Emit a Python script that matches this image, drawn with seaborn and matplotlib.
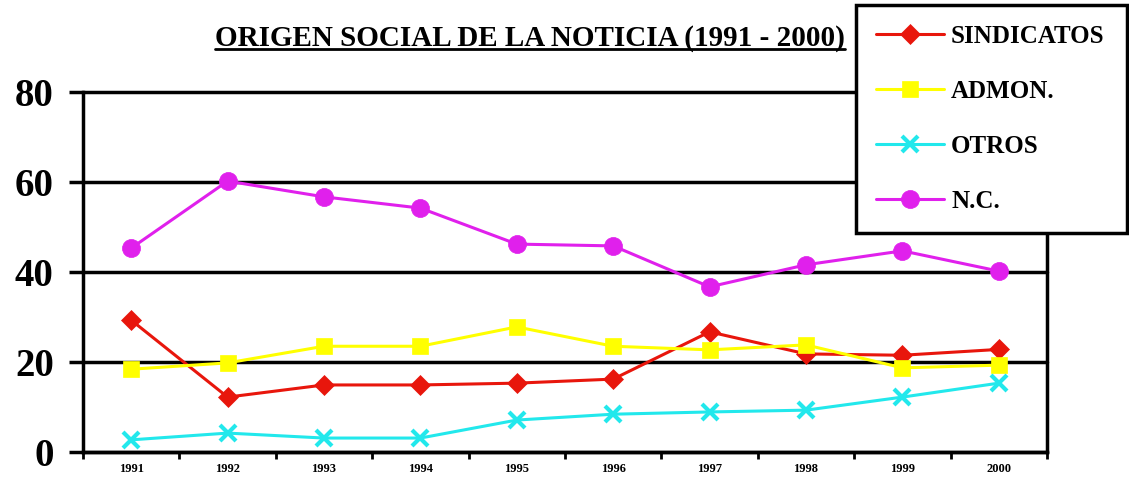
# -*- coding: utf-8 -*-
"""
Origen social de la noticia (1991 - 2000)
"""
import pandas as pd
import matplotlib
matplotlib.use('Agg')
import matplotlib.pyplot as plt
import seaborn as sns
from matplotlib.lines import Line2D

# ------------------------------------------------------ #
# DATOS
# ------------------------------------------------------ #
years = ['1991', '1992', '1993', '1994', '1995', '1996', '1997', '1998', '1999', '2000']
series = ['SINDICATOS', 'ADMON.', 'OTROS', 'N.C.']
sindicatos = [29.3, 12.2, 14.9, 14.9, 15.3, 16.2, 26.7, 21.8, 21.5, 22.8]
admon = [18.4, 19.8, 23.5, 23.5, 27.8, 23.5, 22.7, 23.8, 18.7, 19.3]
otros = [2.7, 4.2, 3.1, 3.1, 7.1, 8.4, 8.9, 9.3, 12.2, 15.3]
nc = [45.3, 60.2, 56.7, 54.2, 46.2, 45.8, 36.7, 41.6, 44.7, 40.2]
yticks = [0, 20, 40, 60, 80]

values = {'SINDICATOS': sindicatos, 'ADMON.': admon, 'OTROS': otros, 'N.C.': nc}
colors = {'SINDICATOS': '#e8160c', 'ADMON.': '#ffff00',
          'OTROS': '#22e8ec', 'N.C.': '#e020ec'}
markers = {'SINDICATOS': 'D', 'ADMON.': 's', 'OTROS': 'x', 'N.C.': 'o'}
msizes = {'SINDICATOS': 10, 'ADMON.': 12, 'OTROS': 11, 'N.C.': 13}

# ------------------------------------------------------ #
# ESTILO
# ------------------------------------------------------ #
sns.set_theme(style='white')
plt.rcParams['font.family'] = ['Liberation Serif', 'DejaVu Serif']
plt.rcParams['text.color'] = 'black'
plt.rcParams['xtick.color'] = 'black'
plt.rcParams['ytick.color'] = 'black'

fig = plt.figure(figsize=(11.29, 4.8), dpi=100)
ax = fig.add_axes([83 / 1129, 1 - 452 / 480, (1047 - 83) / 1129, (452 - 92) / 480])

for s in series:
    d = pd.DataFrame({'Año': years, 'Valor': values[s]})
    sns.lineplot(data=d, x='Año', y='Valor', color=colors[s], marker=markers[s],
                 markersize=msizes[s], markeredgecolor=colors[s],
                 markerfacecolor=colors[s],
                 markeredgewidth=3 if s == 'OTROS' else 0.5,
                 linewidth=2.2, sort=False, ax=ax, label=s, legend=False)

ax.set_xlim(-0.5, 9.5)
ax.set_ylim(0, 80)
ax.set_yticks(yticks)
ax.set_yticklabels([str(v) for v in yticks], fontsize=28, fontweight='bold')
ax.set_xticks(range(len(years)))
ax.set_xticklabels(years, fontsize=9, fontweight='bold')
ax.set_xticks([i + 0.5 for i in range(-1, len(years))], minor=True)
ax.tick_params(axis='x', which='major', length=0, pad=8)
ax.tick_params(axis='x', which='minor', length=5, width=2, direction='out',
               color='black', bottom=True)
ax.tick_params(axis='y', length=10, width=2.5, direction='out', color='black',
               left=True, pad=11)
ax.set_xlabel('')
ax.set_ylabel('')
ax.yaxis.grid(True, color='black', linewidth=2.5)
ax.set_axisbelow(True)
for gl in ax.get_ygridlines():
    gl.set_clip_on(False)
for side in ['left', 'bottom', 'right']:
    ax.spines[side].set_color('black')
    ax.spines[side].set_linewidth(2.5)
ax.spines['top'].set_visible(False)

# Leyenda
handles = [Line2D([], [], color=colors[s], marker=markers[s], lw=2.2,
                  markersize=msizes[s], markerfacecolor=colors[s],
                  markeredgecolor=colors[s],
                  markeredgewidth=3 if s == 'OTROS' else 0.5) for s in series]
leg = fig.legend(handles, series, loc='upper left',
                 bbox_to_anchor=(856 / 1129, 1 - 5 / 480, 271 / 1129, 0.0),
                 mode='expand', frameon=True, fancybox=False, framealpha=1,
                 edgecolor='black', prop={'weight': 'bold', 'size': 18},
                 labelspacing=1.28, handlelength=2.7, handletextpad=0.3,
                 borderpad=0.8, borderaxespad=0)
leg.get_frame().set_linewidth(2.5)

# Título subrayado
title = fig.text(530 / 1129, 1 - 38 / 480, 'ORIGEN SOCIAL DE LA NOTICIA (1991 - 2000)',
                 ha='center', va='center', fontsize=21, fontweight='bold')
fig.canvas.draw()
bb = title.get_window_extent().transformed(fig.transFigure.inverted())
fig.add_artist(Line2D([bb.x0, bb.x1], [bb.y0 + 0.006, bb.y0 + 0.006],
                      color='black', lw=2, transform=fig.transFigure))

fig.savefig('out.png', dpi=100)
